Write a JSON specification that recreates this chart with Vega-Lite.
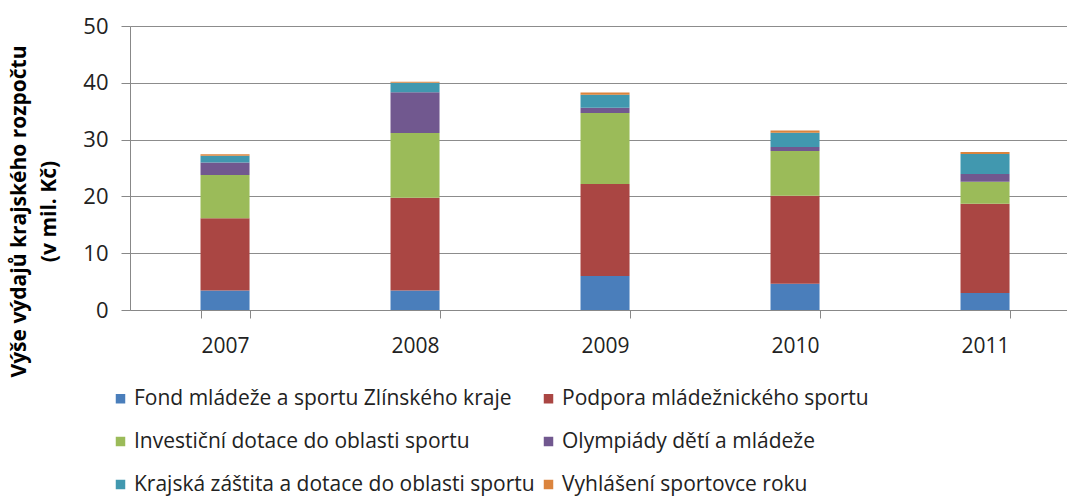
{
  "$schema": "https://vega.github.io/schema/vega-lite/v6.json",
  "width": 937,
  "height": 284,
  "autosize": {"type": "none"},
  "padding": {"left": 130, "top": 26, "right": 0, "bottom": 190},
  "background": "white",
  "config": {
    "font": "Open Sans",
    "view": {"stroke": null},
    "axis": {"labelFont": "Open Sans", "titleFont": "Open Sans"},
    "legend": {"labelFont": "Open Sans"}
  },
  "data": {
    "values": [
      {"rok": "2007", "kategorie": "Fond mládeže a sportu Zlínského kraje", "hodnota": 3.45},
      {"rok": "2007", "kategorie": "Podpora mládežnického sportu", "hodnota": 12.7},
      {"rok": "2007", "kategorie": "Investiční dotace do oblasti sportu", "hodnota": 7.6},
      {"rok": "2007", "kategorie": "Olympiády dětí a mládeže", "hodnota": 2.2},
      {"rok": "2007", "kategorie": "Krajská záštita a dotace do oblasti sportu", "hodnota": 1.2},
      {"rok": "2007", "kategorie": "Vyhlášení sportovce roku", "hodnota": 0.25},
      {"rok": "2008", "kategorie": "Fond mládeže a sportu Zlínského kraje", "hodnota": 3.45},
      {"rok": "2008", "kategorie": "Podpora mládežnického sportu", "hodnota": 16.3},
      {"rok": "2008", "kategorie": "Investiční dotace do oblasti sportu", "hodnota": 11.4},
      {"rok": "2008", "kategorie": "Olympiády dětí a mládeže", "hodnota": 7.2},
      {"rok": "2008", "kategorie": "Krajská záštita a dotace do oblasti sportu", "hodnota": 1.65},
      {"rok": "2008", "kategorie": "Vyhlášení sportovce roku", "hodnota": 0.2},
      {"rok": "2009", "kategorie": "Fond mládeže a sportu Zlínského kraje", "hodnota": 6.0},
      {"rok": "2009", "kategorie": "Podpora mládežnického sportu", "hodnota": 16.2},
      {"rok": "2009", "kategorie": "Investiční dotace do oblasti sportu", "hodnota": 12.5},
      {"rok": "2009", "kategorie": "Olympiády dětí a mládeže", "hodnota": 0.9},
      {"rok": "2009", "kategorie": "Krajská záštita a dotace do oblasti sportu", "hodnota": 2.3},
      {"rok": "2009", "kategorie": "Vyhlášení sportovce roku", "hodnota": 0.4},
      {"rok": "2010", "kategorie": "Fond mládeže a sportu Zlínského kraje", "hodnota": 4.6},
      {"rok": "2010", "kategorie": "Podpora mládežnického sportu", "hodnota": 15.5},
      {"rok": "2010", "kategorie": "Investiční dotace do oblasti sportu", "hodnota": 7.9},
      {"rok": "2010", "kategorie": "Olympiády dětí a mládeže", "hodnota": 0.7},
      {"rok": "2010", "kategorie": "Krajská záštita a dotace do oblasti sportu", "hodnota": 2.5},
      {"rok": "2010", "kategorie": "Vyhlášení sportovce roku", "hodnota": 0.4},
      {"rok": "2011", "kategorie": "Fond mládeže a sportu Zlínského kraje", "hodnota": 3.0},
      {"rok": "2011", "kategorie": "Podpora mládežnického sportu", "hodnota": 15.7},
      {"rok": "2011", "kategorie": "Investiční dotace do oblasti sportu", "hodnota": 3.9},
      {"rok": "2011", "kategorie": "Olympiády dětí a mládeže", "hodnota": 1.35},
      {"rok": "2011", "kategorie": "Krajská záštita a dotace do oblasti sportu", "hodnota": 3.5},
      {"rok": "2011", "kategorie": "Vyhlášení sportovce roku", "hodnota": 0.35}
    ]
  },
  "transform": [
    {"calculate": "indexof(['Fond mládeže a sportu Zlínského kraje', 'Podpora mládežnického sportu', 'Investiční dotace do oblasti sportu', 'Olympiády dětí a mládeže', 'Krajská záštita a dotace do oblasti sportu', 'Vyhlášení sportovce roku'], datum.kategorie)", "as": "poradi"}
  ],
  "mark": {"type": "bar"},
  "encoding": {
    "x": {
      "field": "rok",
      "type": "nominal",
      "scale": {"paddingInner": 0.742, "paddingOuter": 0.3368, "align": 0.551},
      "axis": {
        "title": null,
        "labelAngle": 0,
        "labelFontSize": 21,
        "labelColor": "#222222",
        "labelPadding": 17,
        "domainColor": "#888888",
        "tickColor": "#888888",
        "tickSize": 8,
        "tickBand": "extent",
        "grid": false
      }
    },
    "y": {
      "field": "hodnota",
      "type": "quantitative",
      "aggregate": "sum",
      "stack": "zero",
      "scale": {"domain": [0, 50], "nice": false},
      "axis": {
        "values": [0, 10, 20, 30, 40, 50],
        "title": ["Výše výdajů krajského rozpočtu", "(v mil. Kč)"],
        "titleFontSize": 21,
        "titleFontWeight": "bold",
        "titleColor": "#000000",
        "titleAngle": -90,
        "titleAlign": "center",
        "titleBaseline": "top",
        "titleLineHeight": 30,
        "titleX": -122,
        "titleY": 185,
        "labelFontSize": 22,
        "labelColor": "#222222",
        "labelPadding": 13,
        "domainColor": "#888888",
        "tickColor": "#888888",
        "tickSize": 9,
        "gridColor": "#8c8c8c",
        "gridWidth": 1
      }
    },
    "color": {
      "field": "kategorie",
      "type": "nominal",
      "sort": [
        "Fond mládeže a sportu Zlínského kraje",
        "Podpora mládežnického sportu",
        "Investiční dotace do oblasti sportu",
        "Olympiády dětí a mládeže",
        "Krajská záštita a dotace do oblasti sportu",
        "Vyhlášení sportovce roku"
      ],
      "scale": {
        "domain": [
          "Fond mládeže a sportu Zlínského kraje",
          "Podpora mládežnického sportu",
          "Investiční dotace do oblasti sportu",
          "Olympiády dětí a mládeže",
          "Krajská záštita a dotace do oblasti sportu",
          "Vyhlášení sportovce roku"
        ],
        "range": ["#4A7EBB", "#AA4643", "#9BBB59", "#71588F", "#4198AF", "#DB843D"]
      },
      "legend": {
        "title": null,
        "orient": "none",
        "legendX": -20,
        "legendY": 362,
        "direction": "horizontal",
        "columns": 2,
        "symbolType": "square",
        "symbolSize": 90,
        "symbolStrokeWidth": 0,
        "labelFontSize": 21,
        "labelColor": "#222222",
        "labelOffset": 3,
        "labelLimit": 600,
        "rowPadding": 21,
        "columnPadding": 3
      }
    },
    "order": {"field": "poradi", "type": "quantitative", "sort": "ascending"}
  }
}
